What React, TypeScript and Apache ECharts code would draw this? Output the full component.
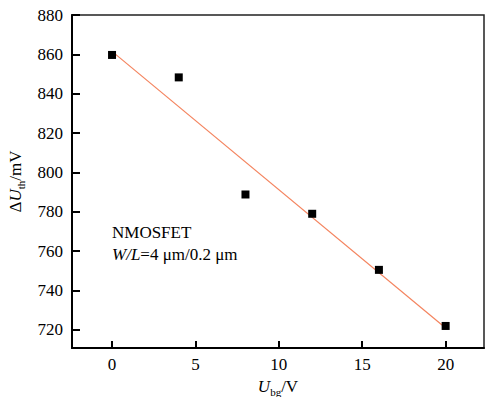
import React, { useEffect, useRef } from "react";
import * as echarts from "echarts";

const xValues = [0, 4, 8, 12, 16, 20];
const yValues = [859.7, 848.3, 788.8, 779, 750.5, 722];
const fitLine: [number, number][] = [
  [0, 861.5],
  [20, 721],
];
const xTicks = [0, 5, 10, 15, 20];
const yTicks = [720, 740, 760, 780, 800, 820, 840, 860, 880];

const FONT = "Liberation Serif";

export default function App() {
  const ref = useRef<HTMLDivElement>(null);
  useEffect(() => {
    if (!ref.current) return;
    const chart = echarts.init(ref.current, undefined, { renderer: "svg" });
    const nameRich = {
      i: { fontFamily: FONT, fontStyle: "italic", fontSize: 17, color: "#000", lineHeight: 20, verticalAlign: "top" },
      s: { fontFamily: FONT, fontSize: 11, color: "#000", lineHeight: 20, verticalAlign: "bottom", padding: [5, 0, 0, 0] },
      n: { fontFamily: FONT, fontSize: 17, color: "#000", lineHeight: 20, verticalAlign: "top" },
    };
    chart.setOption({
      animation: false,
      textStyle: { fontFamily: FONT },
      grid: {
        left: 72,
        top: 15,
        right: 1,
        bottom: 49,
        outerBoundsMode: "none",
        containLabel: false,
        show: true,
        borderColor: "#222",
        borderWidth: 1.5,
      },
      xAxis: {
        type: "value",
        min: -2.4,
        max: 22.3,
        name: "{i|U}{s|bg}{n|/V}",
        nameLocation: "middle",
        nameGap: 25,
        nameTextStyle: { fontFamily: FONT, rich: nameRich },
        axisLine: { onZero: false, lineStyle: { color: "#000", width: 2 } },
        axisTick: {
          inside: true,
          length: 7,
          lineStyle: { color: "#000", width: 2 },
          customValues: xTicks,
        },
        axisLabel: {
          margin: 8,
          fontFamily: FONT,
          fontSize: 17,
          color: "#000",
          customValues: xTicks,
        },
        splitLine: { show: false },
      },
      yAxis: {
        type: "value",
        min: 710.8,
        max: 880,
        name: "{n|Δ}{i|U}{s|th}{n|/mV}",
        nameLocation: "middle",
        nameGap: 34,
        nameRotate: 90,
        nameTextStyle: { fontFamily: FONT, rich: nameRich },
        axisLine: { onZero: false, lineStyle: { color: "#000", width: 2 } },
        axisTick: {
          inside: true,
          length: 8,
          lineStyle: { color: "#000", width: 2 },
          customValues: yTicks,
        },
        axisLabel: {
          margin: 9,
          fontFamily: FONT,
          fontSize: 17,
          color: "#000",
          customValues: yTicks,
        },
        splitLine: { show: false },
      },
      graphic: [
        {
          type: "text",
          left: 112,
          top: 224,
          style: {
            text: "NMOSFET",
            fontFamily: FONT,
            fontSize: 17,
            fill: "#000",
          },
        },
        {
          type: "text",
          left: 112,
          top: 246,
          style: {
            text: "{i|W/L}{n|=4 μm/0.2 μm}",
            fontFamily: FONT,
            fontSize: 17,
            fill: "#000",
            rich: {
              i: { fontFamily: FONT, fontStyle: "italic", fontSize: 17, fill: "#000" },
              n: { fontFamily: FONT, fontSize: 17, fill: "#000" },
            },
          },
        },
      ],
      series: [
        {
          type: "line",
          data: fitLine,
          symbol: "none",
          lineStyle: { color: "#f4845f", width: 1.2 },
          z: 1,
        },
        {
          type: "scatter",
          data: xValues.map((x, i) => [x, yValues[i]]),
          symbol: "rect",
          symbolSize: 8,
          itemStyle: { color: "#000", opacity: 1 },
          emphasis: { disabled: true },
          z: 2,
        },
      ],
    });
    return () => chart.dispose();
  }, []);
  return <div ref={ref} style={{ width: 485, height: 397, position: "absolute", left: 0, top: 0 }} />;
}
